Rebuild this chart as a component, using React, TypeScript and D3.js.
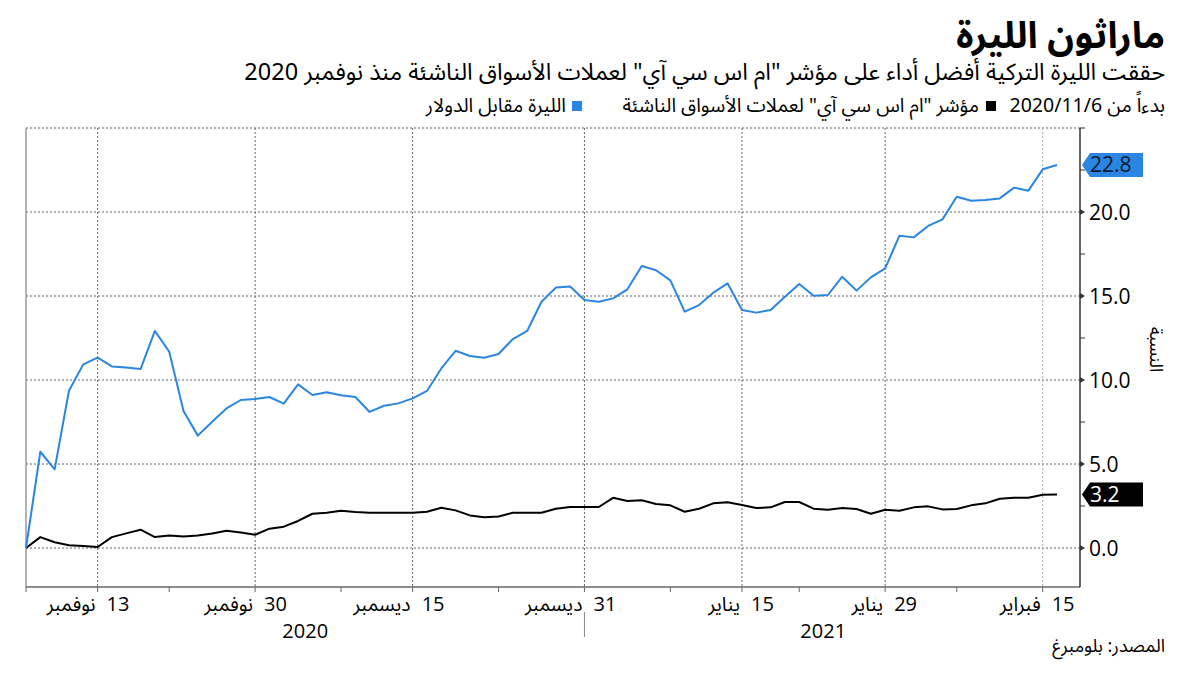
import React from "react";
import * as d3 from "d3";

// ---------- data ----------
const startDate = new Date(2020, 10, 6);
const endDate = new Date(2021, 1, 17);
// trading days (weekdays) from 2020/11/6 to 2021/2/16
const tradingDays: Date[] = d3.timeDay
  .range(startDate, endDate)
  .filter((d) => d.getDay() !== 0 && d.getDay() !== 6);

const liraValues = [
  0, 5.73, 4.68, 9.36, 10.93, 11.33, 10.81, 10.75, 10.65, 12.92, 11.69, 8.15,
  6.69, 7.52, 8.31, 8.81, 8.87, 8.99, 8.59, 9.74, 9.11, 9.27, 9.09, 8.99, 8.1,
  8.47, 8.61, 8.91, 9.35, 10.69, 11.74, 11.43, 11.33, 11.55, 12.44, 12.92,
  14.66, 15.5, 15.56, 14.76, 14.66, 14.86, 15.4, 16.79, 16.53, 15.93, 14.07,
  14.46, 15.2, 15.75, 14.17, 14.01, 14.17, 14.96, 15.71, 15.02, 15.06, 16.15,
  15.32, 16.11, 16.65, 18.59, 18.49, 19.17, 19.56, 20.91, 20.67, 20.71, 20.81,
  21.45, 21.27, 22.54, 22.8,
];

const msciValues = [
  0, 0.65, 0.34, 0.16, 0.12, 0.06, 0.65, 0.87, 1.09, 0.65, 0.75, 0.69, 0.75,
  0.87, 1.03, 0.93, 0.79, 1.15, 1.27, 1.61, 2.04, 2.1, 2.22, 2.14, 2.1, 2.1,
  2.1, 2.1, 2.16, 2.4, 2.24, 1.94, 1.83, 1.88, 2.1, 2.1, 2.1, 2.34, 2.44, 2.44,
  2.44, 2.99, 2.8, 2.84, 2.62, 2.54, 2.16, 2.34, 2.66, 2.72, 2.56, 2.38, 2.42,
  2.74, 2.74, 2.34, 2.28, 2.38, 2.32, 2.04, 2.28, 2.22, 2.42, 2.48, 2.3, 2.32,
  2.54, 2.66, 2.93, 2.99, 2.99, 3.17, 3.18,
];

const tickDates = ["2020-11-13", "2020-11-30", "2020-12-15", "2020-12-31", "2021-01-15", "2021-01-29", "2021-02-15"];
const tickDays = ["13", "30", "15", "31", "15", "29", "15"];
const tickMonths = ["نوفمبر", "نوفمبر", "ديسمبر", "ديسمبر", "يناير", "يناير", "فبراير"];
const minorTickDates = ["2020-11-20", "2020-12-08", "2020-12-23", "2021-01-08", "2021-01-21", "2021-02-05"];
const yearLabels = ["2020", "2021"];
const yTicks = [0, 5, 10, 15, 20];
const yMinorTicks = [2.5, 7.5, 12.5, 17.5, 22.5, 25];

const title = "ماراثون الليرة";
const subtitle = "حققت الليرة التركية أفضل أداء على مؤشر \"ام اس سي آي\" لعملات الأسواق الناشئة منذ نوفمبر 2020";
const legendPrefix = "بدءاً من 2020/11/6";
const msciName = "مؤشر \"ام اس سي آي\" لعملات الأسواق الناشئة";
const liraName = "الليرة مقابل الدولار";
const yAxisTitle = "النسبة";
const source = "المصدر: بلومبرغ";

const BLUE = "#2a86e2";
const ARABIC = "'Noto Sans Arabic', 'Noto Naskh Arabic', 'DejaVu Sans', sans-serif";
const NUM = "'Open Sans', 'Noto Sans Arabic', 'DejaVu Sans', sans-serif";

export default function App() {
  const W = 1200;
  const H = 675;
  const left = 26;
  const right = 1080;
  const top = 128;
  const bottom = 587;

  const idxOf = (s: string) => {
    const t = d3.timeParse("%Y-%m-%d")(s)!.getTime();
    return tradingDays.findIndex((d) => d.getTime() === t);
  };

  const x = d3.scaleLinear().domain([0, tradingDays.length - 1]).range([26, 1057]);
  const y = d3.scaleLinear().domain([-2.32, 25]).range([bottom, top]);

  const line = d3
    .line<number>()
    .x((_, i) => x(i))
    .y((v) => y(v));

  const majorX = tickDates.map((d) => x(idxOf(d)));
  const minorX = minorTickDates.map((d) => x(idxOf(d)));
  const yearSplitX = x(idxOf("2020-12-31"));
  const fmt = d3.format(".1f");

  const endLabel = (v: number, fill: string, textFill: string) => {
    const cy = y(v);
    const h = 24;
    const x0 = right + 2;
    const x1 = right + 10;
    const x2 = right + 63;
    const pts = [
      [x0, cy],
      [x1, cy - h / 2],
      [x2, cy - h / 2],
      [x2, cy + h / 2],
      [x1, cy + h / 2],
    ];
    return (
      <g>
        <polygon points={pts.map((p) => p.join(",")).join(" ")} fill={fill} />
        <text x={x1} y={cy + 7.5} fontSize={21} fontFamily={NUM} fill={textFill}>
          {fmt(v)}
        </text>
      </g>
    );
  };

  return (
    <svg
      width={W}
      height={H}
      style={{ position: "absolute", left: 0, top: 0, background: "#fff" }}
    >
      <rect x={0} y={0} width={W} height={H} fill="#fff" />
      {/* titles */}
      <text x={1165} y={48} direction="rtl" textAnchor="start" fontSize={37} fontWeight="bold" fontFamily={ARABIC} fill="#000">
        {title}
      </text>
      <text x={1165} y={80} direction="rtl" textAnchor="start" fontSize={23.5} fontFamily={ARABIC} fill="#000">
        {subtitle}
      </text>
      {/* legend */}
      <text x={1165} y={112} direction="rtl" textAnchor="start" fontSize={19.5} fontFamily={ARABIC} fill="#000">
        {legendPrefix}
      </text>
      <rect x={986} y={101} width={10} height={10} fill="#000" />
      <text x={979} y={112} direction="rtl" textAnchor="start" fontSize={19.5} fontFamily={ARABIC} fill="#000">
        {msciName}
      </text>
      <rect x={572} y={101} width={10} height={10} fill={BLUE} />
      <text x={566} y={112} direction="rtl" textAnchor="start" fontSize={19.5} fontFamily={ARABIC} fill="#000">
        {liraName}
      </text>

      {/* horizontal grid */}
      {[...yTicks, 25].map((t) => (
        <line key={"hg" + t} x1={left} x2={right} y1={y(t)} y2={y(t)} stroke="#666" strokeWidth={1} strokeDasharray="2,2" />
      ))}
      {/* vertical grid */}
      {majorX.map((gx, i) => (
        <line key={"vg" + i} x1={gx} x2={gx} y1={top} y2={bottom} stroke={i === majorX.length - 1 ? "#aaa" : "#666"} strokeWidth={1} strokeDasharray="2,2" />
      ))}

      {/* frame */}
      <line x1={left} x2={left} y1={top} y2={bottom} stroke="#999" strokeWidth={1.5} />
      <line x1={left} x2={right} y1={bottom} y2={bottom} stroke="#666" strokeWidth={1.5} />
      <line x1={right} x2={right} y1={top} y2={bottom} stroke="#333" strokeWidth={1.5} />

      {/* x ticks */}
      {[left, ...majorX, ...minorX].map((tx, i) => (
        <line key={"xt" + i} x1={tx} x2={tx} y1={bottom} y2={bottom + 5} stroke="#666" strokeWidth={1} />
      ))}
      {majorX.map((tx, i) => (
        <g key={"xl" + i}>
          <text x={tx + 9} y={611} fontSize={20} fontFamily={NUM} fill="#000">
            {tickDays[i]}
          </text>
          <text x={tx - 2} y={611} direction="rtl" textAnchor="start" fontSize={19.5} fontFamily={ARABIC} fill="#000">
            {tickMonths[i]}
          </text>
        </g>
      ))}
      <line x1={yearSplitX} x2={yearSplitX} y1={612} y2={637} stroke="#888" strokeWidth={1} />
      <text x={(left + yearSplitX) / 2} y={638} textAnchor="middle" fontSize={20} fontFamily={NUM} fill="#000">
        {yearLabels[0]}
      </text>
      <text x={(yearSplitX + right) / 2 - 9} y={638} textAnchor="middle" fontSize={20} fontFamily={NUM} fill="#000">
        {yearLabels[1]}
      </text>

      {/* y axis ticks */}
      {yTicks.map((t) => (
        <g key={"yt" + t}>
          <polygon
            points={`${right},${y(t) - 3} ${right + 5},${y(t)} ${right},${y(t) + 3}`}
            fill="#333"
          />
          <text x={right + 9} y={y(t) + 7.5} fontSize={21} fontFamily={NUM} fill="#000">
            {fmt(t)}
          </text>
        </g>
      ))}
      {yMinorTicks.map((t) => (
        <line key={"ym" + t} x1={right} x2={right + 5} y1={y(t)} y2={y(t)} stroke="#333" strokeWidth={1} />
      ))}
      <text
        transform={`translate(1150, ${(top + bottom) / 2 - 8}) rotate(90)`}
        textAnchor="middle"
        fontSize={18}
        fontFamily={ARABIC}
        fill="#000"
      >
        {yAxisTitle}
      </text>

      {/* series */}
      <path d={line(msciValues) || ""} fill="none" stroke="#000" strokeWidth={2} strokeLinejoin="round" />
      <path d={line(liraValues) || ""} fill="none" stroke={BLUE} strokeWidth={2} strokeLinejoin="round" />

      {/* end labels */}
      {endLabel(liraValues[liraValues.length - 1], BLUE, "#0a1a33")}
      {endLabel(msciValues[msciValues.length - 1], "#000", "#fff")}

      {/* source */}
      <text x={1165} y={652} direction="rtl" textAnchor="start" fontSize={18} fontFamily={ARABIC} fill="#000">
        {source}
      </text>
    </svg>
  );
}
